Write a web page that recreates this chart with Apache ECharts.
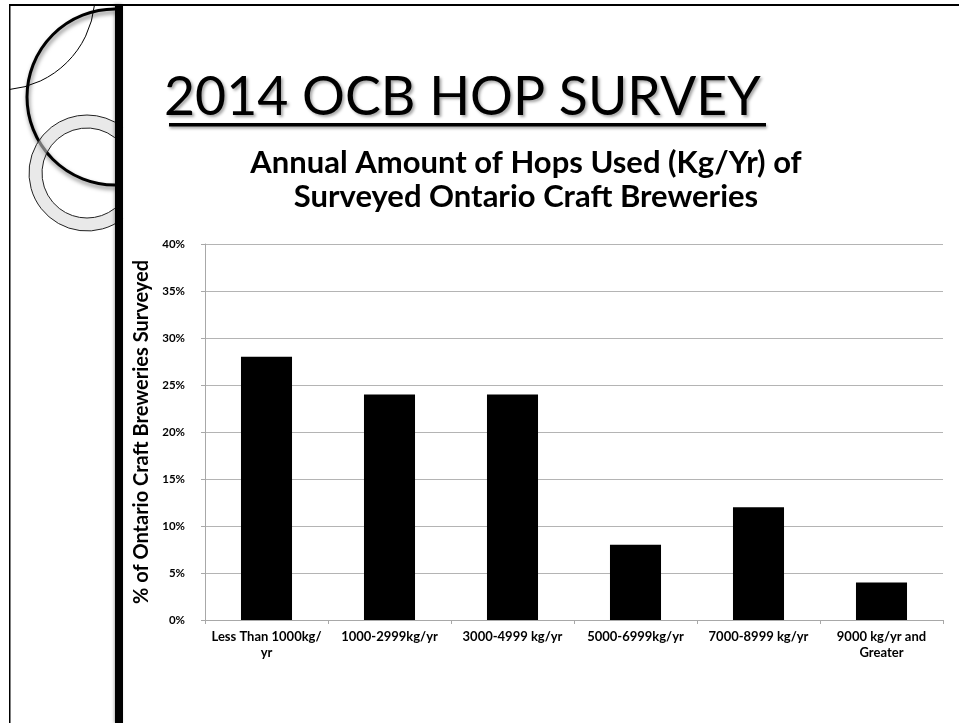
<!DOCTYPE html>
<html><head><meta charset="utf-8">
<script src="https://cdn.jsdelivr.net/npm/echarts@6/dist/echarts.min.js"></script>
<style>html,body{margin:0;padding:0;background:#fff;}#c{width:959px;height:723px;}</style>
</head><body><div id="c"></div>
<script>
const slideTitle = '2014 OCB HOP SURVEY';
const chartTitleLines = ['Annual Amount of Hops Used (Kg/Yr) of', 'Surveyed Ontario Craft Breweries'];
const yAxisName = '% of Ontario Craft Breweries Surveyed';
const categories = ['Less Than 1000kg/yr', '1000-2999kg/yr', '3000-4999 kg/yr', '5000-6999kg/yr', '7000-8999 kg/yr', '9000 kg/yr and Greater'];
const tickLabels = ['Less Than 1000kg/\nyr', '1000-2999kg/yr', '3000-4999 kg/yr', '5000-6999kg/yr', '7000-8999 kg/yr', '9000 kg/yr and\nGreater'];
const percentSurveyed = [28, 24, 24, 8, 12, 4];

const chart = echarts.init(document.getElementById('c'), null, {renderer: 'canvas'});
const FONT = 'Lato, "Open Sans", sans-serif';
const deg = Math.PI / 180;

chart.setOption({
  animation: false,
  backgroundColor: '#ffffff',
  title: [
    {text: slideTitle, left: 164, top: 71, padding: 0,
     textStyle: {fontFamily: FONT, fontSize: 53.6, fontWeight: 'normal', color: '#000',
       textShadowColor: 'rgba(0,0,0,0.35)', textShadowBlur: 3, textShadowOffsetX: 2, textShadowOffsetY: 2}}
  ],
  grid: {left: 205, right: 16, top: 244, bottom: 103, containLabel: false},
  xAxis: {
    type: 'category',
    data: categories,
    boundaryGap: true,
    axisLine: {lineStyle: {color: '#a8a8a8', width: 1}},
    axisTick: {show: true, length: 4, alignWithLabel: false, lineStyle: {color: '#a8a8a8'}},
    axisLabel: {
      interval: 0, margin: 9, color: '#000', fontFamily: FONT, fontWeight: 'bold', fontSize: 13, lineHeight: 16,
      formatter: (v, i) => tickLabels[i]
    }
  },
  yAxis: {
    type: 'value', min: 0, max: 40, interval: 5,
    name: yAxisName, nameLocation: 'middle', nameGap: 47, nameRotate: 90,
    nameTextStyle: {fontFamily: FONT, fontWeight: 'bold', fontSize: 20, color: '#000'},
    axisLine: {show: true, lineStyle: {color: '#a8a8a8', width: 1}},
    axisTick: {show: true, length: 4, lineStyle: {color: '#a8a8a8'}},
    splitLine: {show: true, lineStyle: {color: '#b4b4b4', width: 1}},
    axisLabel: {margin: 20, color: '#000', fontFamily: FONT, fontWeight: 'bold', fontSize: 11.5,
      formatter: '{value}%'}
  },
  series: [{
    type: 'bar',
    data: percentSurveyed,
    barWidth: '41.5%',
    itemStyle: {color: '#000'}
  }],
  graphic: [
    // chart title (two centred lines)
    {type: 'text', z: 10, style: {text: chartTitleLines.join('\n'), x: 526, y: 146, align: 'center', verticalAlign: 'top',
      font: 'bold 31px Lato, "Open Sans", sans-serif', lineHeight: 34, fill: '#000'}},
    // slide frame
    {type: 'rect', z: 10, shape: {x: 9, y: 4, width: 950, height: 2}, style: {fill: '#000'}},
    {type: 'rect', z: 10, shape: {x: 9, y: 4, width: 1.5, height: 719}, style: {fill: '#000'}},
    // thin circle
    {type: 'arc', z: 10, shape: {cx: 0, cy: -5, r: 95, startAngle: 0.105, endAngle: 1.476, clockwise: true},
     style: {stroke: '#000', lineWidth: 1, fill: null}},
    // big circle
    {type: 'arc', z: 10, shape: {cx: 115, cy: 97, r: 88, startAngle: Math.PI / 2, endAngle: 3 * Math.PI / 2, clockwise: true},
     style: {stroke: '#000', lineWidth: 3, fill: null, shadowBlur: 4, shadowColor: 'rgba(0,0,0,0.5)', shadowOffsetX: 1, shadowOffsetY: 3}},
    // gray ring
    {type: 'sector', z: 11, shape: {cx: 87, cy: 173, r0: 45, r: 58, startAngle: 52 * deg, endAngle: 308 * deg, clockwise: true},
     style: {fill: 'rgba(215,215,215,0.55)', stroke: '#222', lineWidth: 1}},
    // thick vertical bar
    {type: 'rect', z: 12, shape: {x: 115, y: 4, width: 8, height: 719},
     style: {fill: '#000', shadowBlur: 3, shadowColor: 'rgba(0,0,0,0.3)', shadowOffsetX: -1}},
    // title underline
    {type: 'rect', z: 10, shape: {x: 169, y: 123, width: 597, height: 3.5},
     style: {fill: '#000', shadowBlur: 3, shadowColor: 'rgba(0,0,0,0.35)', shadowOffsetX: 1, shadowOffsetY: 2}}
  ]
});
</script>
</body></html>
